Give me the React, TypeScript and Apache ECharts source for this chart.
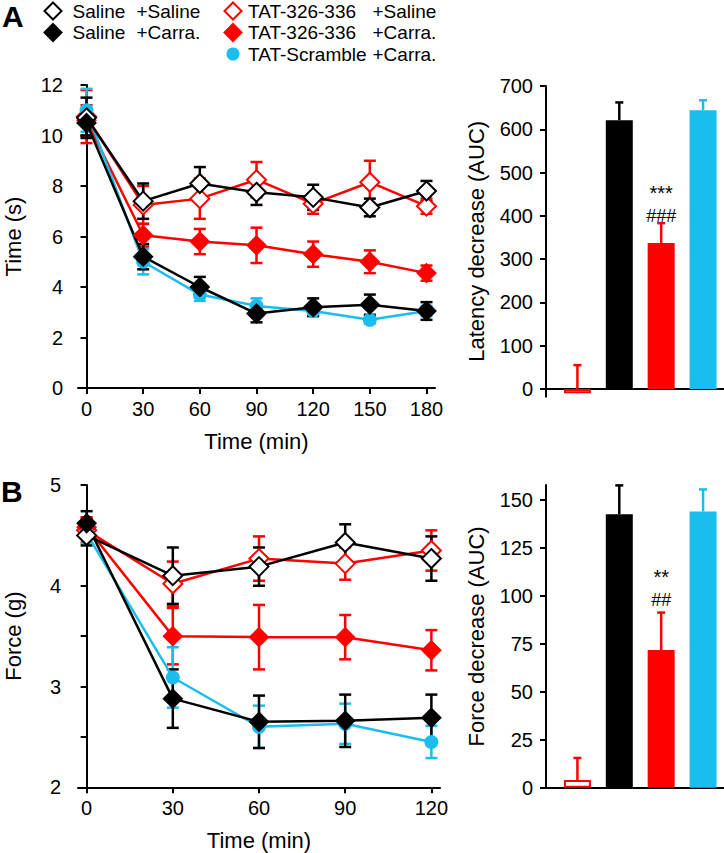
import React, { useEffect, useRef } from "react";
import * as echarts from "echarts";

// ---------------- Data ----------------
const timeA = [0, 30, 60, 90, 120, 150, 180];
const timeB = [0, 30, 60, 90, 120];

// Panel A: paw withdrawal latency, Time (s)
const salSalA = [10.7, 7.4, 8.1, 7.75, 7.55, 7.15, 7.8];
const salSalAErr = [0.8, 0.7, 0.65, 0.5, 0.5, 0.35, 0.4];
const salCarA = [10.5, 5.2, 4.0, 2.95, 3.2, 3.3, 3.05];
const salCarAErr = [0.5, 0.5, 0.4, 0.35, 0.35, 0.4, 0.35];
const tatSalA = [10.75, 7.25, 7.5, 8.25, 7.3, 8.15, 7.2];
const tatSalAErr = [1.05, 0.75, 0.8, 0.7, 0.4, 0.85, 0.3];
const tatCarA = [10.6, 6.05, 5.8, 5.65, 5.3, 5.0, 4.55];
const tatCarAErr = [0.6, 0.45, 0.5, 0.7, 0.5, 0.45, 0.3];
const scrCarA = [11.0, 5.0, 3.7, 3.25, 3.05, 2.7, 3.05];
const scrCarAErr = [0.85, 0.5, 0.25, 0.3, 0.2, 0.15, 0.2];

// Panel B: Force (g)
const salSalB = [4.5, 4.1, 4.19, 4.43, 4.27];
const salSalBErr = [0.1, 0.28, 0.19, 0.18, 0.22];
const salCarB = [4.62, 2.88, 2.65, 2.66, 2.69];
const salCarBErr = [0.12, 0.29, 0.26, 0.26, 0.23];
const tatSalB = [4.55, 4.02, 4.27, 4.22, 4.35];
const tatSalBErr = [0.12, 0.22, 0.22, 0.16, 0.2];
const tatCarB = [4.58, 3.5, 3.49, 3.49, 3.36];
const tatCarBErr = [0.1, 0.28, 0.32, 0.22, 0.2];
const scrCarB = [4.52, 3.09, 2.6, 2.63, 2.45];
const scrCarBErr = [0.1, 0.3, 0.21, 0.2, 0.16];

// Bar panels (AUC)
const barGroups = ["TAT-326-336 +Saline", "Saline +Carra.", "TAT-326-336 +Carra.", "TAT-Scramble +Carra."];
const barPos = [1, 2, 3, 4];
const latencyAUC = [-10, 621, 337, 644];
const latencyAUCErr = [65, 41, 46, 23];
const forceAUC = [4, 142.6, 71.8, 144];
const forceAUCErr = [11.5, 15, 19.5, 11.5];
const latencySig = ["***", "###"];
const forceSig = ["**", "##"];

// Tick labels
const ticksTimeA = [0, 30, 60, 90, 120, 150, 180];
const ticksTimeB = [0, 30, 60, 90, 120];
const ticksForceLabels = [2, 3, 4, 5];
const ticksLatency = [0, 100, 200, 300, 400, 500, 600, 700];
const ticksForceAUC = [0, 25, 50, 75, 100, 125, 150];

// ---------------- Styling ----------------
const RED = "#ff0000";
const CYAN = "#19bdee";
const BLACK = "#000000";
const FONT = "'Liberation Sans', Arial, Helvetica, sans-serif";
const TICK_FS = 20;
const NAME_FS = 22;
const LW = 2.5;

type Group = {
  first: string;
  second: string;
  color: string;
  symbol: string;
  filled: boolean;
  a: number[];
  aErr: number[];
  b: number[];
  bErr: number[];
  legendCol: number;
  legendRow: number;
};

// drawing order (bottom to top)
const groups: Group[] = [
  { first: "TAT-326-336", second: "+Saline", color: RED, symbol: "diamond", filled: false, a: tatSalA, aErr: tatSalAErr, b: tatSalB, bErr: tatSalBErr, legendCol: 1, legendRow: 0 },
  { first: "TAT-326-336", second: "+Carra.", color: RED, symbol: "diamond", filled: true, a: tatCarA, aErr: tatCarAErr, b: tatCarB, bErr: tatCarBErr, legendCol: 1, legendRow: 1 },
  { first: "TAT-Scramble", second: "+Carra.", color: CYAN, symbol: "circle", filled: true, a: scrCarA, aErr: scrCarAErr, b: scrCarB, bErr: scrCarBErr, legendCol: 1, legendRow: 2 },
  { first: "Saline", second: "+Saline", color: BLACK, symbol: "diamond", filled: false, a: salSalA, aErr: salSalAErr, b: salSalB, bErr: salSalBErr, legendCol: 0, legendRow: 0 },
  { first: "Saline", second: "+Carra.", color: BLACK, symbol: "diamond", filled: true, a: salCarA, aErr: salCarAErr, b: salCarB, bErr: salCarBErr, legendCol: 0, legendRow: 1 },
];

const barStyles = [
  { color: "#ffffff", borderColor: RED, borderWidth: 2 },
  { color: BLACK },
  { color: RED },
  { color: CYAN },
];
const barErrColors = [RED, BLACK, RED, CYAN];

function errorSeries(xs: number[], ys: number[], es: number[], color: any, axis: number, cap: number, upOnly: boolean) {
  return {
    type: "custom",
    xAxisIndex: axis,
    yAxisIndex: axis,
    silent: true,
    clip: false,
    data: xs.map((x, i) => [x, ys[i], es[i], i]),
    renderItem: (params: any, api: any) => {
      const x = api.value(0);
      const y = api.value(1);
      const e = api.value(2);
      const idx = api.value(3);
      const c = Array.isArray(color) ? color[idx] : color;
      const hi = api.coord([x, y + e]);
      const lo = upOnly ? api.coord([x, y]) : api.coord([x, y - e]);
      const st = { stroke: c, lineWidth: LW };
      const children: any[] = [
        { type: "line", shape: { x1: hi[0], y1: hi[1], x2: lo[0], y2: lo[1] }, style: st },
        { type: "line", shape: { x1: hi[0] - cap, y1: hi[1], x2: hi[0] + cap, y2: hi[1] }, style: st },
      ];
      if (!upOnly) {
        children.push({ type: "line", shape: { x1: lo[0] - cap, y1: lo[1], x2: lo[0] + cap, y2: lo[1] }, style: st });
      }
      return { type: "group", children };
    },
  };
}

function lineSeries(g: Group, xs: number[], ys: number[], axis: number) {
  const isCircle = g.symbol === "circle";
  return {
    type: "line",
    name: `${g.first} ${g.second}`,
    xAxisIndex: axis,
    yAxisIndex: axis,
    data: xs.map((x, i) => [x, ys[i]]),
    symbol: g.symbol,
    symbolSize: isCircle ? 14 : g.filled ? 18 : 19,
    showSymbol: true,
    clip: false,
    lineStyle: { color: g.color, width: LW },
    itemStyle: {
      color: g.filled ? g.color : "#ffffff",
      borderColor: g.color,
      borderWidth: isCircle ? 0 : 2,
    },
    emphasis: { disabled: true },
  };
}

const axisLine = { show: true, lineStyle: { color: BLACK, width: 2 } };
const axisTick = { show: true, length: 6, inside: false, lineStyle: { color: BLACK, width: 2 } };
const tickLabel = { color: BLACK, fontSize: TICK_FS, fontFamily: FONT };
const nameStyle = { color: BLACK, fontSize: NAME_FS, fontFamily: FONT };

function buildOption() {
  const series: any[] = [];
  groups.forEach((g) => {
    series.push(errorSeries(timeA, g.a, g.aErr, g.color, 0, 6, false));
    series.push(lineSeries(g, timeA, g.a, 0));
  });
  groups.forEach((g) => {
    series.push(errorSeries(timeB, g.b, g.bErr, g.color, 2, 6, false));
    series.push(lineSeries(g, timeB, g.b, 2));
  });

  const barSeries = (vals: number[], sig: string[], dist: number, axis: number) => ({
    type: "bar",
    xAxisIndex: axis,
    yAxisIndex: axis,
    barWidth: 27,
    clip: false,
    emphasis: { disabled: true },
    data: barPos.map((x, i) => ({
      name: barGroups[i],
      value: [x, vals[i]],
      itemStyle: barStyles[i],
      label:
        i === 2
          ? {
              show: true,
              position: "top",
              distance: dist,
              formatter: `{s|${sig[0]}}\n{h|${sig[1]}}`,
              rich: {
                s: { fontSize: 20, fontFamily: FONT, color: BLACK, lineHeight: 23, height: 23, align: "center" },
                h: { fontSize: 18, fontFamily: FONT, color: BLACK, lineHeight: 23, height: 23, align: "center" },
              },
            }
          : { show: false },
    })),
  });

  series.push(barSeries(latencyAUC, latencySig, 16, 1));
  series.push(errorSeries(barPos, latencyAUC, latencyAUCErr, barErrColors, 1, 4, true));
  series.push(barSeries(forceAUC, forceSig, 38, 3));
  series.push(errorSeries(barPos, forceAUC, forceAUCErr, barErrColors, 3, 4, true));

  // Legend drawn as graphic
  const legendRowY = [11, 32.5, 54];
  const legendMarkerX = [53, 233];
  const legendText1X = [72.5, 248];
  const legendText2X = [136.5, 372.5];
  const graphic: any[] = [];
  groups.forEach((g) => {
    const cx = legendMarkerX[g.legendCol];
    const cy = legendRowY[g.legendRow];
    if (g.symbol === "circle") {
      graphic.push({ type: "circle", shape: { cx, cy, r: 6.5 }, style: { fill: g.color } });
    } else {
      const h = 8.5;
      graphic.push({
        type: "polygon",
        shape: { points: [[cx, cy - h], [cx + h, cy], [cx, cy + h], [cx - h, cy]] },
        style: { fill: g.filled ? g.color : "#ffffff", stroke: g.color, lineWidth: 2 },
      });
    }
    graphic.push({
      type: "text",
      x: legendText1X[g.legendCol],
      y: cy,
      style: { text: g.first, fontSize: 19, fontFamily: FONT, fill: BLACK, verticalAlign: "middle", align: "left" },
    });
    graphic.push({
      type: "text",
      x: legendText2X[g.legendCol],
      y: cy,
      style: { text: g.second, fontSize: 19, fontFamily: FONT, fill: BLACK, verticalAlign: "middle", align: "left" },
    });
  });
  graphic.push({
    type: "text",
    x: 2,
    y: 16,
    style: { text: "A", fontSize: 30, fontWeight: "bold", fontFamily: FONT, fill: BLACK, verticalAlign: "middle" },
  });
  graphic.push({
    type: "text",
    x: 1,
    y: 491,
    style: { text: "B", fontSize: 30, fontWeight: "bold", fontFamily: FONT, fill: BLACK, verticalAlign: "middle" },
  });

  return {
    animation: false,
    backgroundColor: "#ffffff",
    textStyle: { fontFamily: FONT },
    grid: [
      { left: 78, top: 85, width: 357, height: 303 },
      { left: 546, top: 86, width: 178, height: 310.7 },
      { left: 78, top: 485, width: 362, height: 302.3 },
      { left: 546, top: 485, width: 178, height: 302.7 },
    ],
    xAxis: [
      {
        gridIndex: 0,
        type: "value",
        min: -4.5,
        max: 184.5,
        name: "Time (min)",
        nameLocation: "middle",
        nameGap: 42,
        nameTextStyle: nameStyle,
        axisLine,
        axisTick: { ...axisTick, customValues: ticksTimeA },
        axisLabel: { ...tickLabel, margin: 11, customValues: ticksTimeA },
        splitLine: { show: false },
      },
      {
        gridIndex: 1,
        type: "value",
        min: 0.25,
        max: 4.5,
        axisLine: { ...axisLine, onZero: true },
        axisTick: { show: false },
        axisLabel: { show: false },
        splitLine: { show: false },
      },
      {
        gridIndex: 2,
        type: "value",
        min: -3,
        max: 123,
        name: "Time (min)",
        nameLocation: "middle",
        nameGap: 42,
        nameTextStyle: nameStyle,
        axisLine,
        axisTick: { ...axisTick, customValues: ticksTimeB },
        axisLabel: { ...tickLabel, margin: 11, customValues: ticksTimeB },
        splitLine: { show: false },
      },
      {
        gridIndex: 3,
        type: "value",
        min: 0.25,
        max: 4.5,
        axisLine,
        axisTick: { show: false },
        axisLabel: { show: false },
        splitLine: { show: false },
      },
    ],
    yAxis: [
      {
        gridIndex: 0,
        type: "value",
        min: 0,
        max: 12,
        interval: 2,
        offset: 6,
        name: "Time (s)",
        nameLocation: "middle",
        nameGap: 48,
        nameTextStyle: nameStyle,
        axisLine,
        axisTick,
        axisLabel: { ...tickLabel, margin: 9 },
        splitLine: { show: false },
      },
      {
        gridIndex: 1,
        type: "value",
        min: -18,
        max: 700,
        name: "Latency decrease (AUC)",
        nameLocation: "middle",
        nameGap: 59,
        nameTextStyle: nameStyle,
        axisLine: { ...axisLine, onZero: false },
        axisTick: { ...axisTick, customValues: ticksLatency },
        axisLabel: { ...tickLabel, margin: 13, customValues: ticksLatency },
        splitLine: { show: false },
      },
      {
        gridIndex: 2,
        type: "value",
        min: 2,
        max: 5,
        interval: 0.5,
        offset: 7,
        name: "Force (g)",
        nameLocation: "middle",
        nameGap: 47,
        nameTextStyle: nameStyle,
        axisLine,
        axisTick,
        axisLabel: { ...tickLabel, margin: 10, customValues: ticksForceLabels },
        splitLine: { show: false },
      },
      {
        gridIndex: 3,
        type: "value",
        min: 0,
        max: 157.8,
        name: "Force decrease (AUC)",
        nameLocation: "middle",
        nameGap: 59,
        nameTextStyle: nameStyle,
        axisLine,
        axisTick: { ...axisTick, customValues: ticksForceAUC },
        axisLabel: { ...tickLabel, margin: 13, customValues: ticksForceAUC },
        splitLine: { show: false },
      },
    ],
    graphic,
    series,
  };
}

export default function App() {
  const ref = useRef<HTMLDivElement>(null);
  useEffect(() => {
    if (!ref.current) return;
    const chart = echarts.init(ref.current, null, { renderer: "svg" });
    chart.setOption(buildOption() as any);
    return () => chart.dispose();
  }, []);
  return (
    <div
      ref={ref}
      style={{ position: "absolute", left: 0, top: 0, width: 724, height: 853, background: "#fff" }}
    />
  );
}
